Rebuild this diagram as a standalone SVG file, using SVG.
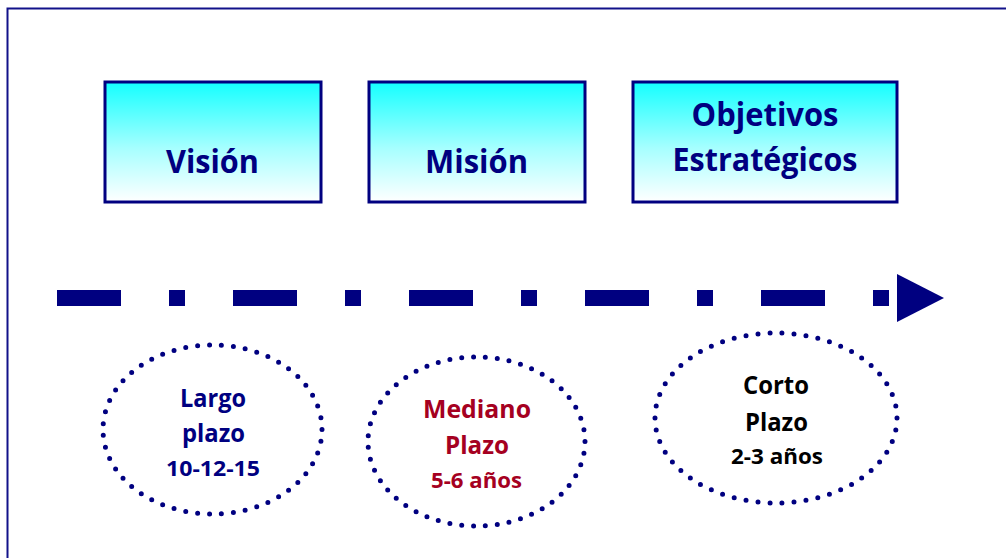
<svg xmlns="http://www.w3.org/2000/svg" width="1006" height="558" viewBox="0 0 1006 558">
  <defs>
    <linearGradient id="boxGrad" x1="0" y1="0" x2="0" y2="1">
      <stop offset="0" stop-color="#14FFFF"/>
      <stop offset="0.55" stop-color="#A6FFFF"/>
      <stop offset="1" stop-color="#FFFFFF"/>
    </linearGradient>
    <style>
      .box { fill: url(#boxGrad); stroke: #000080; stroke-width: 3; }
      .boxText { font-family: "Open Sans", Lato, sans-serif; font-weight: bold; font-size: 33px; fill: #000080; text-anchor: middle; }
      .dots { fill: none; stroke: #000080; stroke-width: 5; stroke-linecap: round; stroke-dasharray: 0 1; }
      .eText { font-family: "Open Sans", Lato, sans-serif; font-weight: bold; text-anchor: middle; }
      .l1 { font-size: 25px; }
      .l3 { font-size: 22px; }
      .seg { fill: #000080; }
    </style>
  </defs>
  <rect width="1006" height="558" fill="#FFFFFF"/>
  <path d="M7.5 558 L7.5 8.5 L1006 8.5" fill="none" stroke="#12128A" stroke-width="2"/>

  <g id="vision">
    <rect class="box" x="105" y="82" width="216" height="120"/>
    <text class="boxText" x="212.5" y="173" textLength="93" lengthAdjust="spacingAndGlyphs">Visión</text>
  </g>
  <g id="mision">
    <rect class="box" x="369" y="82" width="216" height="120"/>
    <text class="boxText" x="476.5" y="173" textLength="103" lengthAdjust="spacingAndGlyphs">Misión</text>
  </g>
  <g id="objetivos">
    <rect class="box" x="633" y="82" width="264" height="120"/>
    <text class="boxText" x="765" y="126" textLength="147" lengthAdjust="spacingAndGlyphs">Objetivos</text>
    <text class="boxText" x="765" y="171" textLength="185" lengthAdjust="spacingAndGlyphs">Estratégicos</text>
  </g>

  <g id="connectors">
    <g id="timeline-arrow">
      <rect class="seg" x="57" y="290" width="64" height="16"/>
      <rect class="seg" x="169" y="290" width="16" height="16"/>
      <rect class="seg" x="233" y="290" width="64" height="16"/>
      <rect class="seg" x="345" y="290" width="16" height="16"/>
      <rect class="seg" x="409" y="290" width="64" height="16"/>
      <rect class="seg" x="521" y="290" width="16" height="16"/>
      <rect class="seg" x="585" y="290" width="64" height="16"/>
      <rect class="seg" x="697" y="290" width="16" height="16"/>
      <rect class="seg" x="761" y="290" width="64" height="16"/>
      <rect class="seg" x="873" y="290" width="16" height="16"/>
      <polygon class="seg" points="897,274 944,298 897,322"/>
    </g>
  </g>

  <g id="largo">
    <ellipse class="dots" cx="212.5" cy="429.5" rx="109.5" ry="84.5" pathLength="51"/>
    <text class="eText l1" x="213" y="407" fill="#000080" textLength="66" lengthAdjust="spacingAndGlyphs">Largo</text>
    <text class="eText l1" x="213.5" y="442" fill="#000080" textLength="63" lengthAdjust="spacingAndGlyphs">plazo</text>
    <text class="eText l3" x="213" y="476" fill="#000080" textLength="94" lengthAdjust="spacingAndGlyphs">10-12-15</text>
  </g>
  <g id="mediano">
    <ellipse class="dots" cx="476.5" cy="441.5" rx="108.5" ry="84.5" pathLength="51"/>
    <text class="eText l1" x="477" y="418" fill="#A50021" textLength="108" lengthAdjust="spacingAndGlyphs">Mediano</text>
    <text class="eText l1" x="477" y="454" fill="#A50021" textLength="64" lengthAdjust="spacingAndGlyphs">Plazo</text>
    <text class="eText l3" x="476.5" y="488" fill="#A50021" textLength="91" lengthAdjust="spacingAndGlyphs">5-6 años</text>
  </g>
  <g id="corto">
    <ellipse class="dots" cx="776" cy="418" rx="121" ry="85" pathLength="54"/>
    <text class="eText l1" x="776" y="394" fill="#000000" textLength="66" lengthAdjust="spacingAndGlyphs">Corto</text>
    <text class="eText l1" x="776.5" y="431" fill="#000000" textLength="63" lengthAdjust="spacingAndGlyphs">Plazo</text>
    <text class="eText l3" x="777" y="464" fill="#000000" textLength="92" lengthAdjust="spacingAndGlyphs">2-3 años</text>
  </g>
</svg>
